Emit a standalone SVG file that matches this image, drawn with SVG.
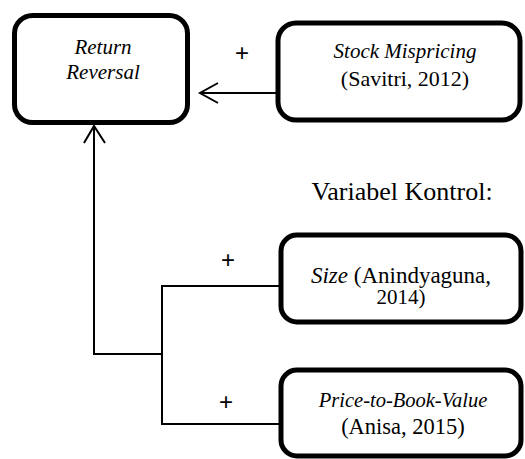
<svg xmlns="http://www.w3.org/2000/svg" width="525" height="459" viewBox="0 0 525 459">
<rect width="525" height="459" fill="#fff"/>
<g id="connectors" fill="none" stroke="#000" stroke-width="2">
<path d="M277,93 H200"/>
<path d="M218,83 L200,93 L218,103"/>
<path d="M94,126 V354 H162"/>
<path d="M84,143 L94,126 L105,143"/>
<path d="M280,286 H162 V424 H280"/>
</g>
<text x="242" y="61" font-family="Liberation Sans" font-size="24" text-anchor="middle">+</text>
<text x="228" y="268" font-family="Liberation Sans" font-size="24" text-anchor="middle">+</text>
<text x="226" y="410" font-family="Liberation Sans" font-size="24" text-anchor="middle">+</text>
<g id="return-reversal">
<rect x="14.5" y="15.5" width="173" height="107" rx="18" fill="#fff" stroke="#000" stroke-width="5"/>
<text x="103" y="54" font-family="Times New Roman" font-size="21" font-style="italic" text-anchor="middle">Return</text>
<text x="103" y="79" font-family="Times New Roman" font-size="21" font-style="italic" text-anchor="middle">Reversal</text>
</g>
<g id="stock-mispricing">
<rect x="278" y="23" width="242" height="97" rx="18" fill="#fff" stroke="#000" stroke-width="5"/>
<text x="405" y="58" font-family="Times New Roman" font-size="21" font-style="italic" text-anchor="middle">Stock Mispricing</text>
<text x="405" y="86" font-family="Times New Roman" font-size="22" text-anchor="middle">(Savitri, 2012)</text>
</g>
<text x="402" y="200" font-family="Times New Roman" font-size="26" text-anchor="middle">Variabel Kontrol:</text>
<g id="size">
<rect x="281" y="235" width="240" height="87" rx="16" fill="#fff" stroke="#000" stroke-width="5"/>
<text x="401" y="283" font-family="Times New Roman" font-size="23" text-anchor="middle"><tspan font-style="italic">Size</tspan> (Anindyaguna,</text>
<text x="401" y="304" font-family="Times New Roman" font-size="21" text-anchor="middle">2014)</text>
</g>
<g id="pbv">
<rect x="281" y="370" width="240" height="86" rx="16" fill="#fff" stroke="#000" stroke-width="5"/>
<text x="403" y="407" font-family="Times New Roman" font-size="20.5" font-style="italic" text-anchor="middle">Price-to-Book-Value</text>
<text x="403" y="434" font-family="Times New Roman" font-size="22.5" text-anchor="middle">(Anisa, 2015)</text>
</g>
</svg>
